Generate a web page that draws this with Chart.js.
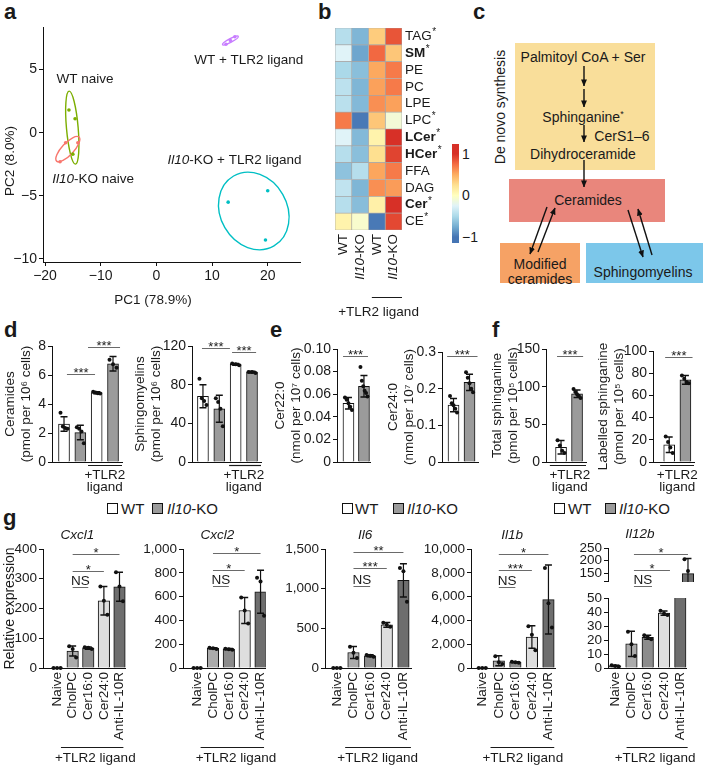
<!DOCTYPE html>
<html>
<head>
<meta charset="utf-8">
<title>Ceramide figure</title>
<script src="https://cdn.jsdelivr.net/npm/chart.js@4.4.1/dist/chart.umd.min.js"></script>
<style>
  body { margin: 0; background: #fff; }
  #fig { position: relative; width: 705px; height: 782px; overflow: hidden; font-family: 'Liberation Sans', Arial, Helvetica, sans-serif; color: #1a1a1a; }
  #fig canvas { position: absolute; }
  .lab { position: absolute; font-size: 22px; font-weight: bold; line-height: 22px; }
  .t { position: absolute; white-space: nowrap; line-height: 1; font-size: 14px; transform: translate(-50%, -50%); }
  .bx { position: absolute; }
  .sw { position: absolute; width: 9px; height: 9px; border: 1px solid #111; }
  .lt { position: absolute; font-size: 15px; line-height: 15px; white-space: nowrap; }
  .cb { position: absolute; font-size: 14px; line-height: 1; transform: translate(0, -50%); }
</style>
</head>
<body>
<div id="fig">
  <div class="lab" style="left:4px;top:1px">a</div>
  <div class="lab" style="left:318px;top:1px">b</div>
  <div class="lab" style="left:473px;top:1px">c</div>
  <div class="lab" style="left:4px;top:319px">d</div>
  <div class="lab" style="left:270px;top:319px">e</div>
  <div class="lab" style="left:492px;top:319px">f</div>
  <div class="lab" style="left:3px;top:507px">g</div>

  <!-- c: pathway sketch -->
  <div class="bx" style="left:515px;top:43px;width:140px;height:127px;background:#f9de9a"></div>
  <div class="bx" style="left:509px;top:179px;width:156px;height:43px;background:#e9867c"></div>
  <div class="bx" style="left:500px;top:243px;width:80px;height:40px;background:#f6a265"></div>
  <div class="bx" style="left:586px;top:243px;width:117px;height:40px;background:#7cc7ea"></div>
  <svg width="705" height="300" style="position:absolute;left:0;top:0">
    <defs>
      <marker id="ah" viewBox="0 0 8 8" refX="7.5" refY="4" markerWidth="7" markerHeight="7" markerUnits="userSpaceOnUse" orient="auto">
        <path d="M0,0.6 L8,4 L0,7.4 Z" fill="#111"/>
      </marker>
    </defs>
    <g stroke="#111" stroke-width="1.4" marker-end="url(#ah)">
      <line x1="584" y1="66" x2="584" y2="86"/>
      <line x1="584" y1="89" x2="584" y2="107"/>
      <line x1="584" y1="125" x2="584" y2="142"/>
      <line x1="584" y1="160" x2="584" y2="187"/>
      <line x1="547" y1="207" x2="530" y2="254"/>
      <line x1="538" y1="252" x2="555" y2="208"/>
      <line x1="628" y1="210" x2="643" y2="257"/>
      <line x1="652" y1="255" x2="638" y2="209"/>
    </g>
  </svg>
  <div class="t" style="left:583px;top:57px">Palmitoyl CoA + Ser</div>
  <div class="t" style="left:583px;top:117px">Sphinganine<span style="font-size:9px;vertical-align:5px">*</span></div>
  <div class="t" style="left:622px;top:136px">CerS1–6</div>
  <div class="t" style="left:583px;top:154px">Dihydroceramide</div>
  <div class="t" style="left:588px;top:200px">Ceramides</div>
  <div class="t" style="left:540px;top:264px">Modified</div>
  <div class="t" style="left:540px;top:279px">ceramides</div>
  <div class="t" style="left:643px;top:272px">Sphingomyelins</div>
  <div class="t" style="left:500px;top:107px;transform:translate(-50%,-50%) rotate(-90deg)">De novo synthesis</div>

  <!-- b: colour key -->
  <div id="cbar" class="bx" style="left:452px;top:144px;width:7px;height:99px"></div>
  <div class="cb" style="left:462px;top:154px">1</div>
  <div class="cb" style="left:462px;top:195px">0</div>
  <div class="cb" style="left:462px;top:237px">−1</div>

  <!-- d, e, f legends -->
  <div class="sw" style="left:107px;top:503px;background:#fff"></div><div class="lt" style="left:121px;top:501px">WT</div>
  <div class="sw" style="left:152px;top:503px;background:#9b9b9b"></div><div class="lt" style="left:167px;top:501px"><i>Il10</i>-KO</div>
  <div class="sw" style="left:342px;top:503px;background:#fff"></div><div class="lt" style="left:355px;top:501px">WT</div>
  <div class="sw" style="left:393px;top:503px;background:#9b9b9b"></div><div class="lt" style="left:407px;top:501px"><i>Il10</i>-KO</div>
  <div class="sw" style="left:554px;top:503px;background:#fff"></div><div class="lt" style="left:568px;top:501px">WT</div>
  <div class="sw" style="left:605px;top:503px;background:#9b9b9b"></div><div class="lt" style="left:619px;top:501px"><i>Il10</i>-KO</div>
</div>

<script>
// ---- a: PCA scores
var pcaGroups = ['WT naive', 'Il10-KO naive', 'WT + TLR2 ligand', 'Il10-KO + TLR2 ligand'];
var pcaWtNaive = [[-15.7, 1.8], [-14.6, 1.1], [-15.0, -1.7]];
var pcaKoNaive = [[-16.3, -0.8], [-17.3, -2.3], [-14.1, -0.8]];
var pcaWtTlr2 = [[12.5, 7.0], [13.3, 7.3], [14.1, 7.6]];
var pcaKoTlr2 = [[12.9, -5.5], [20.0, -4.6], [19.6, -8.5]];
var pcaXTicks = [-20, -10, 0, 10, 20];
var pcaYTicks = [-10, -5, 0, 5];

// ---- b: heat map (row z-scores)
var lipidClasses = ['TAG', 'SM', 'PE', 'PC', 'LPE', 'LPC', 'LCer', 'HCer', 'FFA', 'DAG', 'Cer', 'CE'];
var lipidStar = [true, true, false, false, false, true, true, true, false, false, true, true];
var lipidBold = [false, true, false, false, false, false, true, true, false, false, true, false];
var heatColumns = ['WT', 'Il10-KO', 'WT', 'Il10-KO'];
var zWtNaive = [-0.45, -0.25, -0.5, -0.42, -0.43, 0.7, -0.25, -0.45, -0.63, -0.4, -0.45, 0.1];
var zKoNaive = [-0.7, -0.78, -0.65, -0.7, -0.68, -0.98, -0.68, -0.65, -0.45, -0.7, -0.66, -0.06];
var zWtTlr2 = [0.35, 0.77, 0.52, 0.55, 0.62, 0.38, 0.1, 0.25, 0.53, 0.62, 0.12, -0.98];
var zKoTlr2 = [0.85, 0.38, 0.7, 0.7, 0.55, -0.1, 1.0, 0.92, 0.7, 0.57, 1.0, 0.9];

// ---- d, e, f
var genotypes = ['WT', 'Il10-KO'];
var ceramideMean = [2.62, 2.03, 4.78, 6.77];
var ceramideSd = [0.5, 0.5, 0.07, 0.5];
var ceramideDots = [[3.4, 2.45, 2.35, 2.3], [2.4, 2.3, 2.1, 1.3], [4.85, 4.8, 4.75, 4.72], [7.05, 6.75, 6.5]];
var ceramideTicks = [0, 2, 4, 6, 8];
var ceramideSig = ['***', '***'];

var smMean = [68, 55, 101, 93];
var smSd = [12, 14, 1, 1];
var smDots = [[86, 66, 63, 59], [66, 62, 55, 37], [102, 101, 100], [93, 93, 92]];
var smTicks = [0, 40, 80, 120];
var smSig = ['***', '***'];

var cer22Mean = [0.052, 0.067];
var cer22Sd = [0.005, 0.0095];
var cer22Dots = [[0.057, 0.055, 0.052, 0.049, 0.046], [0.084, 0.072, 0.067, 0.063, 0.061, 0.058]];
var cer22Ticks = [0, 0.02, 0.04, 0.06, 0.08, 0.10];
var cer22Labels = ['0', '0.02', '0.04', '0.06', '0.08', '0.10'];

var cer24Mean = [0.155, 0.217];
var cer24Sd = [0.018, 0.022];
var cer24Dots = [[0.18, 0.16, 0.155, 0.145, 0.135], [0.245, 0.23, 0.215, 0.2, 0.19]];
var cer24Ticks = [0, 0.1, 0.2, 0.3];
var cer24Labels = ['0', '0.1', '0.2', '0.3'];

var totalSphMean = [19.5, 90.5];
var totalSphSd = [9, 5];
var totalSphDots = [[29, 22, 15, 12], [97, 93, 90, 88, 85]];
var totalSphTicks = [0, 50, 100, 150];

var labelSphMean = [15.5, 74];
var labelSphSd = [7, 4];
var labelSphDots = [[23, 18, 13, 8], [78, 75, 72, 71]];
var labelSphTicks = [0, 20, 40, 60, 80, 100];

// ---- g: relative expression
var treatments = ['Naive', 'CholPC', 'Cer16:0', 'Cer24:0', 'Anti-IL-10R'];

var cxcl1Mean = [1, 57, 67, 226, 273];
var cxcl1Sd = [0, 17, 4, 48, 49];
var cxcl1Dots = [[0, 0, 0], [73, 64, 35], [70, 68, 64], [274, 226, 179], [322, 274, 224]];
var cxcl1Ticks = [0, 100, 200, 300, 400];
var cxcl1Sig = ['*', '*', 'NS'];

var cxcl2Mean = [1, 165, 158, 483, 641];
var cxcl2Sd = [0, 6, 5, 110, 180];
var cxcl2Dots = [[0, 0, 0], [170, 165, 160], [162, 158, 154], [593, 483, 373], [758, 726, 440]];
var cxcl2Ticks = [0, 200, 400, 600, 800, 1000];
var cxcl2Sig = ['*', '*', 'NS'];

var il6Mean = [2, 195, 154, 545, 1105];
var il6Sd = [0, 75, 12, 30, 210];
var il6Dots = [[0, 0, 0], [268, 192, 125], [165, 155, 142], [570, 545, 520], [1262, 1218, 835]];
var il6Ticks = [0, 500, 1000, 1500];
var il6Sig = ['**', '***', 'NS'];

var il1bMean = [10, 600, 480, 2600, 5750];
var il1bSd = [0, 420, 40, 950, 2900];
var il1bDots = [[0, 0, 0], [980, 480, 340], [520, 480, 440], [3500, 2800, 1500], [8400, 5450, 3400]];
var il1bTicks = [0, 2000, 4000, 6000, 8000, 10000];
var il1bSig = ['*', '***', 'NS'];

var il12bMean = [1.5, 17.2, 22, 39.3, 148];
var il12bSd = [0.4, 9, 1.5, 1.5, 60];
var il12bDots = [[2, 1.5, 1], [26, 17, 8.5], [23.5, 22, 20.5], [41, 39, 38], [205, 158, 82]];
var il12bTicksLow = [0, 10, 20, 30, 40, 50];
var il12bTicksHigh = [115, 150, 200, 250];
var il12bLabelsHigh = ['', '150', '200', '250'];
var il12bSig = ['*', '*', 'NS'];

// ------------------------------------------------------------
var FONT = "'Liberation Sans', Arial, Helvetica, sans-serif";
var INK = '#1a1a1a';
Chart.defaults.font.family = FONT;
Chart.defaults.color = INK;

var fig = document.getElementById('fig');
var extras = {};

function fnt(size, style) {
    return (style ? style + ' ' : '') + size + 'px ' + FONT;
}

// split the italic gene symbol off a label
function parts(label) {
    if (label.indexOf('Il10') === 0) return [['Il10', 'italic'], [label.slice(4), '']];
    return [[label, '']];
}

function rich(c, ps, x, y, align, size) {
    var w = 0;
    ps.forEach(function (p) { c.font = fnt(size, p[1]); w += c.measureText(p[0]).width; });
    var cx = align === 'center' ? x - w / 2 : align === 'right' ? x - w : x;
    c.textAlign = 'left';
    ps.forEach(function (p) { c.font = fnt(size, p[1]); c.fillText(p[0], cx, y); cx += c.measureText(p[0]).width; });
}

function place(id, b) {
    var cv = document.createElement('canvas');
    cv.id = id;
    var w = b.padL + (b.x1 - b.x0) + b.padR;
    var h = b.padT + (b.yBot - b.yTop) + b.padB;
    cv.width = w;
    cv.height = h;
    cv.style.left = (b.x0 - b.padL) + 'px';
    cv.style.top = (b.yTop - b.padT) + 'px';
    cv.style.width = w + 'px';
    cv.style.height = h + 'px';
    fig.appendChild(cv);
    return cv;
}

var rdylbu = ['#4575b4', '#74add1', '#abd9e9', '#e0f3f8', '#ffffbf', '#fee090', '#fdae61', '#f46d43', '#d73027'];
function hexRgb(h) { return [1, 3, 5].map(function (k) { return parseInt(h.substr(k, 2), 16); }); }
function zColor(z) {
    var t = (Math.max(-1, Math.min(1, z)) + 1) / 2 * (rdylbu.length - 1);
    var i = Math.min(Math.floor(t), rdylbu.length - 2), f = t - i;
    var a = hexRgb(rdylbu[i]), b = hexRgb(rdylbu[i + 1]);
    return 'rgb(' + a.map(function (v, k) { return Math.round(v + (b[k] - v) * f); }).join(',') + ')';
}

var axisGrid = { drawOnChartArea: false, drawTicks: true, tickLength: 4, color: '#111', lineWidth: 1 };
var axisBorder = { display: true, color: '#111', width: 1 };

// ---------------- a ----------------
var pcaSets = [pcaWtNaive, pcaKoNaive, pcaWtTlr2, pcaKoTlr2];
var pcaColors = ['#7cae00', '#f8766d', '#c77cff', '#00bfc4'];
var pcaEllipse = [[1.05, 2.9, -5], [2.95, 0.47, -47], [1.6, 0.14, -28], [6.0, 3.2, -30]];
var pcaLabelAt = [[-17.95, 4.2], [-18.7, -3.7], [6.8, 5.7], [2.0, -2.2]];

var pcaPlugin = {
    id: 'pcaExtras',
    beforeDatasetsDraw: function (chart) {
        var c = chart.ctx, xs = chart.scales.x, ys = chart.scales.y;
        var kx = Math.abs(xs.getPixelForValue(1) - xs.getPixelForValue(0));
        var ky = Math.abs(ys.getPixelForValue(1) - ys.getPixelForValue(0));
        pcaSets.forEach(function (pts, g) {
            var mx = 0, my = 0;
            pts.forEach(function (p) { mx += p[0] / pts.length; my += p[1] / pts.length; });
            var e = pcaEllipse[g];
            c.save();
            c.strokeStyle = pcaColors[g];
            c.lineWidth = 1.4;
            c.beginPath();
            c.ellipse(xs.getPixelForValue(mx), ys.getPixelForValue(my), e[0] * kx, e[1] * ky, e[2] * Math.PI / 180, 0, 2 * Math.PI);
            c.stroke();
            c.restore();
        });
    },
    afterDraw: function (chart) {
        var c = chart.ctx, xs = chart.scales.x, ys = chart.scales.y;
        c.save();
        c.fillStyle = INK;
        c.textBaseline = 'middle';
        pcaGroups.forEach(function (g, k) {
            rich(c, parts(g), xs.getPixelForValue(pcaLabelAt[k][0]), ys.getPixelForValue(pcaLabelAt[k][1]), 'left', 13.5);
        });
        c.font = fnt(13.5);
        c.textAlign = 'center';
        c.fillText('PC1 (78.9%)', 153, 300);
        c.translate(10, 161);
        c.rotate(-Math.PI / 2);
        c.fillText('PC2 (8.0%)', 0, 0);
        c.restore();
    }
};

var boxA = { x0: 43, x1: 300, yTop: 27, yBot: 262, padL: 43, padR: 15, padT: 27, padB: 50 };
new Chart(place('pca', boxA), {
    type: 'scatter',
    data: {
        datasets: pcaSets.map(function (pts, g) {
            return {
                label: pcaGroups[g],
                data: pts.map(function (p) { return { x: p[0], y: p[1] }; }),
                backgroundColor: pcaColors[g],
                pointRadius: 1.8,
                pointBorderWidth: 0
            };
        })
    },
    options: {
        responsive: false,
        animation: false,
        layout: { autoPadding: false, padding: { left: 0, right: boxA.padR, top: boxA.padT, bottom: 0 } },
        plugins: { legend: { display: false }, tooltip: { enabled: false } },
        scales: {
            x: {
                min: -20.36, max: 25.8,
                afterFit: function (s) { s.height = boxA.padB; },
                afterBuildTicks: function (s) { s.ticks = pcaXTicks.map(function (v) { return { value: v }; }); },
                ticks: { autoSkip: false, font: { size: 14 }, padding: 2, callback: function (v) { return String(v).replace('-', '\u2212'); } },
                grid: axisGrid, border: axisBorder
            },
            y: {
                min: -10.24, max: 8.37,
                afterFit: function (s) { s.width = boxA.padL; },
                afterBuildTicks: function (s) { s.ticks = pcaYTicks.map(function (v) { return { value: v }; }); },
                ticks: { autoSkip: false, font: { size: 14 }, padding: 2, callback: function (v) { return String(v).replace('-', '\u2212'); } },
                grid: axisGrid, border: axisBorder
            }
        }
    },
    plugins: [pcaPlugin]
});

// ---------------- b ----------------
var heatPlugin = {
    id: 'heatExtras',
    afterDraw: function (chart) {
        var c = chart.ctx, xs = chart.scales.x, ys = chart.scales.y, a = chart.chartArea;
        c.save();
        c.fillStyle = INK;
        c.textBaseline = 'middle';
        lipidClasses.forEach(function (name, i) {
            var y = ys.getPixelForValue(i), x = a.right + 3;
            c.font = fnt(13.5, lipidBold[i] ? 'bold' : '');
            c.textAlign = 'left';
            c.fillText(name, x, y);
            if (lipidStar[i]) {
                var w = c.measureText(name).width;
                c.font = fnt(10);
                c.fillText('*', x + w + 0.5, y - 4);
            }
        });
        heatColumns.forEach(function (col, j) {
            c.save();
            c.translate(xs.getPixelForValue(j + 0.5), a.bottom + 4);
            c.rotate(-Math.PI / 2);
            rich(c, parts(col), 0, 0, 'right', 13.5);
            c.restore();
        });
        c.strokeStyle = INK;
        c.lineWidth = 1;
        c.beginPath();
        c.moveTo(xs.getPixelForValue(2.2), a.bottom + 67.5);
        c.lineTo(xs.getPixelForValue(4), a.bottom + 67.5);
        c.stroke();
        c.font = fnt(13.5);
        c.textAlign = 'center';
        c.fillText('+TLR2 ligand', xs.getPixelForValue(2.6), a.bottom + 82);
        c.restore();
    }
};

var boxB = { x0: 335, x1: 402, yTop: 28, yBot: 230, padL: 10, padR: 48, padT: 8, padB: 92 };
new Chart(place('heat', boxB), {
    type: 'bar',
    data: {
        labels: lipidClasses,
        datasets: [zWtNaive, zKoNaive, zWtTlr2, zKoTlr2].map(function (col) {
            return {
                data: col.map(function () { return 1; }),
                backgroundColor: col.map(zColor),
                borderColor: '#a6a6a6',
                borderWidth: 0.7,
                borderSkipped: false,
                categoryPercentage: 1,
                barPercentage: 1
            };
        })
    },
    options: {
        indexAxis: 'y',
        responsive: false,
        animation: false,
        layout: { autoPadding: false, padding: { left: boxB.padL, right: boxB.padR, top: boxB.padT, bottom: boxB.padB } },
        plugins: { legend: { display: false }, tooltip: { enabled: false } },
        scales: {
            x: { stacked: true, min: 0, max: 4, display: false },
            y: { stacked: true, display: false }
        }
    },
    plugins: [heatPlugin]
});

// colour key
(function () {
    var stops = rdylbu.map(function (col, k) {
        return col + ' ' + (6 + k * (84 / (rdylbu.length - 1))).toFixed(1) + '%';
    });
    document.getElementById('cbar').style.background = 'linear-gradient(to top, ' + stops.join(', ') + ')';
})();

// ---------------- bar panels ----------------
var barPlugin = {
    id: 'barExtras',
    afterDatasetsDraw: function (chart) {
        var s = extras[chart.canvas.id];
        var c = chart.ctx, xs = chart.scales.x, ys = chart.scales.y, a = chart.chartArea;
        c.save();
        c.beginPath();
        c.rect(a.left - 10, a.top - s.clipT, a.right - a.left + 20, a.bottom - a.top + s.clipT + s.clipB);
        c.clip();
        c.strokeStyle = '#111';
        s.mean.forEach(function (m, i) {
            var sd = s.sd[i];
            if (!sd) return;
            var x = xs.getPixelForValue(i);
            var yHi = ys.getPixelForValue(m + sd), yLo = ys.getPixelForValue(m - sd);
            c.lineWidth = 1.2;
            c.beginPath();
            c.moveTo(x, yLo); c.lineTo(x, yHi);
            c.stroke();
            c.lineWidth = 1.5;
            c.beginPath();
            c.moveTo(x - 3.5, yHi); c.lineTo(x + 3.5, yHi);
            c.moveTo(x - 3.5, yLo); c.lineTo(x + 3.5, yLo);
            c.stroke();
        });
        c.fillStyle = '#111';
        s.dots.forEach(function (arr, i) {
            arr.forEach(function (v, k) {
                var off = arr.length > 1 ? (k / (arr.length - 1) - 0.5) * s.jit : 0;
                c.beginPath();
                c.arc(xs.getPixelForValue(i) + off, ys.getPixelForValue(v), s.dotR, 0, 2 * Math.PI);
                c.fill();
            });
        });
        c.restore();
    },
    afterDraw: function (chart) {
        var s = extras[chart.canvas.id];
        var c = chart.ctx, xs = chart.scales.x, ys = chart.scales.y, a = chart.chartArea;
        c.save();
        c.fillStyle = INK;
        if (s.sig) {
            s.sig.forEach(function (txt, k) {
                var x0 = xs.getPixelForValue(s.sigX[k][0]), x1 = xs.getPixelForValue(s.sigX[k][1]);
                var y = Math.round(ys.getPixelForValue(s.sigY[k])) + 0.5;
                c.strokeStyle = '#6a6a6a';
                c.lineWidth = 1;
                c.beginPath();
                c.moveTo(x0, y); c.lineTo(x1, y);
                c.stroke();
                var star = txt.indexOf('*') >= 0;
                c.textAlign = 'center';
                c.textBaseline = 'alphabetic';
                c.font = fnt(star ? 13 : 13.5);
                c.fillText(txt, (x0 + x1) / 2, star ? y + 2.5 : y - 2.5);
            });
        }
        if (s.under) {
            var yu = a.bottom + s.underDy + 0.5;
            c.strokeStyle = INK;
            c.lineWidth = 1.2;
            c.beginPath();
            c.moveTo(xs.getPixelForValue(s.under[0]), yu);
            c.lineTo(xs.getPixelForValue(s.under[1]), yu);
            c.stroke();
        }
        if (s.tlr) {
            c.textAlign = 'center';
            c.textBaseline = 'middle';
            c.font = fnt(13.5);
            s.tlr.forEach(function (t, k) { c.fillText(t, xs.getPixelForValue(s.tlrAt), a.bottom + s.tlrDy[k]); });
        }
        if (s.title) {
            c.textBaseline = 'middle';
            rich(c, [[s.title, 'italic']], xs.getPixelForValue(s.titleAt), a.top - 14, 'center', 13.5);
        }
        c.restore();
    }
};

function barChart(id, b, spec) {
    var s = Object.assign({ barW: 11, jit: 7, dotR: 2, tickSize: 14, clipT: 4, clipB: 4, titleSize: 13.5 }, spec);
    var cv = place(id, b);
    extras[id] = s;
    return new Chart(cv, {
        type: 'bar',
        data: {
            datasets: [{
                data: s.mean.map(function (v, i) { return { x: i, y: v }; }),
                backgroundColor: s.colors,
                borderColor: '#111',
                borderWidth: 1,
                borderSkipped: 'start',
                barThickness: s.barW,
                clip: 0
            }]
        },
        options: {
            responsive: false,
            animation: false,
            layout: { autoPadding: false, padding: { left: 0, right: b.padR, top: b.padT, bottom: 0 } },
            plugins: { legend: { display: false }, tooltip: { enabled: false } },
            scales: {
                x: {
                    type: 'linear', min: s.xMin, max: s.xMax, offset: false,
                    afterFit: function (sc) { sc.height = b.padB; },
                    afterBuildTicks: function (sc) { sc.ticks = s.mean.map(function (v, i) { return { value: i }; }); },
                    ticks: {
                        display: !!s.xLabels, autoSkip: false, minRotation: 90, maxRotation: 90, padding: 4,
                        font: { size: 13.5 },
                        callback: function (v) { return s.xLabels ? s.xLabels[v] : ''; }
                    },
                    grid: { display: false, drawTicks: false },
                    border: { display: !s.noXAxis, color: '#111', width: 1 }
                },
                y: {
                    type: 'linear', min: s.yTicks[0], max: s.yTicks[s.yTicks.length - 1],
                    afterFit: function (sc) { sc.width = b.padL; },
                    afterBuildTicks: function (sc) { sc.ticks = s.yTicks.map(function (v) { return { value: v }; }); },
                    ticks: {
                        autoSkip: false, padding: 2, font: { size: s.tickSize },
                        callback: function (v, i) { return s.yLabels ? s.yLabels[i] : v.toLocaleString('en-US'); }
                    },
                    grid: axisGrid,
                    border: axisBorder,
                    title: {
                        display: !!s.yTitle, text: s.yTitle || '', color: INK,
                        font: { size: s.titleSize, lineHeight: 1.2 }, padding: { top: 0, bottom: 0 }
                    }
                }
            }
        },
        plugins: [barPlugin]
    });
}

var dfColors = ['#ffffff', '#9b9b9b', '#ffffff', '#9b9b9b'];
var tlrTwo = ['+TLR2', 'ligand'];

// d
barChart('cer', { x0: 52, x1: 122, yTop: 346, yBot: 462, padL: 50, padR: 6, padT: 24, padB: 40 }, {
    mean: ceramideMean, sd: ceramideSd, dots: ceramideDots, colors: dfColors, yTicks: ceramideTicks,
    xMin: -0.735, xMax: 3.55, yTitle: ['Ceramides', '(pmol per 10\u2076 cells)'],
    sig: ceramideSig, sigX: [[0.18, 1.9], [1.47, 3.43]], sigY: [6.1, 7.9],
    under: [1.47, 3.55], underDy: 3, tlr: tlrTwo, tlrAt: 2.5, tlrDy: [13, 25]
});
barChart('sm', { x0: 192, x1: 261, yTop: 346, yBot: 462, padL: 60, padR: 6, padT: 24, padB: 40 }, {
    mean: smMean, sd: smSd, dots: smDots, colors: dfColors, yTicks: smTicks,
    xMin: -0.67, xMax: 3.55, yTitle: ['Sphingomyelins', '(pmol per 10\u2076 cells)'],
    sig: smSig, sigX: [[-0.06, 1.65], [1.78, 3.25]], sigY: [118, 114],
    under: [1.6, 3.55], underDy: 3, tlr: tlrTwo, tlrAt: 2.5, tlrDy: [13, 25]
});

// e
barChart('cer22', { x0: 337, x1: 370, yTop: 349, yBot: 462, padL: 65, padR: 6, padT: 24, padB: 20 }, {
    mean: cer22Mean, sd: cer22Sd, dots: cer22Dots, colors: dfColors, yTicks: cer22Ticks, yLabels: cer22Labels,
    xMin: -0.74, xMax: 1.39, yTitle: ['Cer22:0', '(nmol per 10\u2077 cells)'],
    sig: ['***'], sigX: [[-0.35, 1.26]], sigY: [0.094]
});
barChart('cer24', { x0: 442, x1: 478, yTop: 352, yBot: 462, padL: 57, padR: 6, padT: 24, padB: 20 }, {
    mean: cer24Mean, sd: cer24Sd, dots: cer24Dots, colors: dfColors, yTicks: cer24Ticks, yLabels: cer24Labels,
    xMin: -0.72, xMax: 1.53, yTitle: ['Cer24:0', '(nmol per 10\u2077 cells)'],
    sig: ['***'], sigX: [[-0.4, 1.5]], sigY: [0.29]
});

// f
barChart('totsph', { x0: 546, x1: 586, yTop: 349, yBot: 462, padL: 57, padR: 6, padT: 24, padB: 40 }, {
    mean: totalSphMean, sd: totalSphSd, dots: totalSphDots, colors: dfColors, yTicks: totalSphTicks,
    xMin: -0.94, xMax: 1.56, yTitle: ['Total sphinganine', '(pmol per 10\u2075 cells)'],
    sig: ['***'], sigX: [[-0.25, 1.38]], sigY: [141],
    under: [-0.7, 1.56], underDy: 3, tlr: tlrTwo, tlrAt: 0.55, tlrDy: [13, 25]
});
barChart('labsph', { x0: 653, x1: 694, yTop: 351, yBot: 462, padL: 58, padR: 6, padT: 24, padB: 40 }, {
    mean: labelSphMean, sd: labelSphSd, dots: labelSphDots, colors: dfColors, yTicks: labelSphTicks,
    xMin: -1.0, xMax: 1.53, yTitle: ['Labelled sphinganine', '(pmol per 10\u2075 cells)'],
    sig: ['***'], sigX: [[-0.25, 1.44]], sigY: [94.5],
    under: [-0.56, 1.53], underDy: 3, tlr: tlrTwo, tlrAt: 0.5, tlrDy: [13, 25]
});

// g
var treatColors = ['#c8c8c8', '#ababab', '#8c8c8c', '#dedede', '#6e6e6e'];
var gPairs = [[1, 4], [1, 3], [1, 2]];

function geneChart(id, b, spec) {
    return barChart(id, b, Object.assign({
        colors: treatColors, xLabels: treatments, sigX: gPairs, barW: 11.5, tickSize: 13.5,
        tlr: ['+TLR2 ligand'], tlrAt: 2.45, tlrDy: [90], underDy: 79
    }, spec));
}

geneChart('cxcl1', { x0: 43, x1: 136, yTop: 549, yBot: 668, padL: 41, padR: 4, padT: 29, padB: 102 }, {
    mean: cxcl1Mean, sd: cxcl1Sd, dots: cxcl1Dots, yTicks: cxcl1Ticks, xMin: -0.9, xMax: 4.41,
    sig: cxcl1Sig, sigY: [383, 326, 272], under: [0.25, 4.25], title: 'Cxcl1', titleAt: 1.31,
    yTitle: 'Relative expression', titleSize: 14
});
geneChart('cxcl2', { x0: 183, x1: 277, yTop: 549, yBot: 668, padL: 45, padR: 4, padT: 29, padB: 102 }, {
    mean: cxcl2Mean, sd: cxcl2Sd, dots: cxcl2Dots, yTicks: cxcl2Ticks, xMin: -0.89, xMax: 4.33,
    sig: cxcl2Sig, sigY: [966, 822, 686], under: [0.22, 4.22], title: 'Cxcl2', titleAt: 1.28
});
geneChart('il6', { x0: 325, x1: 420, yTop: 549, yBot: 668, padL: 45, padR: 4, padT: 29, padB: 102 }, {
    mean: il6Mean, sd: il6Sd, dots: il6Dots, yTicks: il6Ticks, xMin: -0.71, xMax: 4.48,
    sig: il6Sig, sigY: [1462, 1256, 1038], under: [0.5, 4.45], title: 'Il6', titleAt: 1.7
});
geneChart('il1b', { x0: 471, x1: 565, yTop: 549, yBot: 668, padL: 48, padR: 4, padT: 29, padB: 102 }, {
    mean: il1bMean, sd: il1bSd, dots: il1bDots, yTicks: il1bTicks, xMin: -0.68, xMax: 4.45,
    sig: il1bSig, sigY: [9580, 8235, 6807], under: [0.5, 4.35], title: 'Il1b', titleAt: 1.8
});
// Il12b has a broken axis: upper and lower segments share the x positions
geneChart('il12bHi', { x0: 608, x1: 695, yTop: 548, yBot: 582, padL: 38, padR: 6, padT: 28, padB: 10 }, {
    mean: il12bMean, sd: il12bSd, dots: il12bDots, yTicks: il12bTicksHigh, yLabels: il12bLabelsHigh,
    xMin: -0.44, xMax: 4.39, xLabels: null, noXAxis: true, clipB: 0,
    sig: il12bSig, sigY: [226, 162.6, 99], tlr: null, title: 'Il12b', titleAt: 1.33
});
geneChart('il12bLo', { x0: 608, x1: 695, yTop: 591, yBot: 668, padL: 38, padR: 6, padT: 3, padB: 102 }, {
    mean: il12bMean, sd: il12bSd, dots: il12bDots, yTicks: il12bTicksLow,
    xMin: -0.44, xMax: 4.39, clipT: 0, sig: null, under: [0.7, 4.45]
});
</script>
</body>
</html>
